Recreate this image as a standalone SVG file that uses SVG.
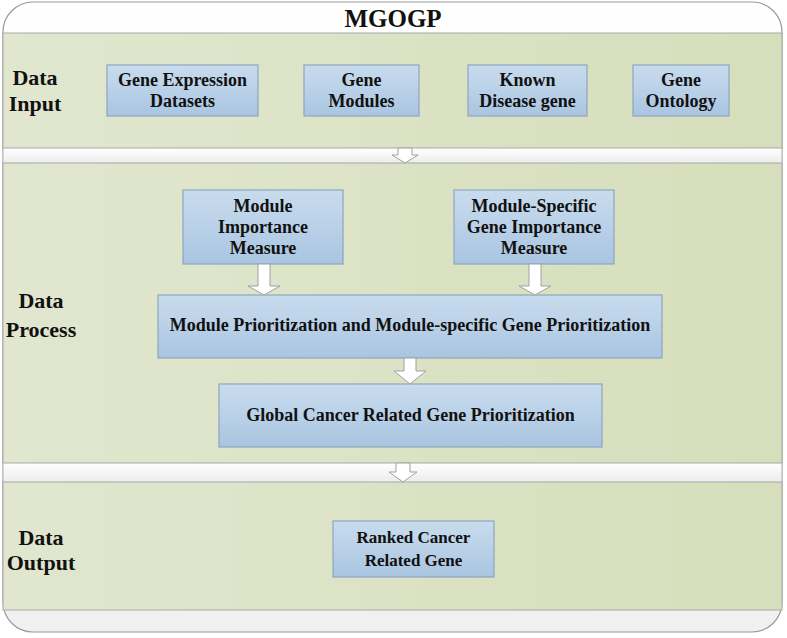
<svg xmlns="http://www.w3.org/2000/svg" width="787" height="638" viewBox="0 0 787 638">
<defs>
<linearGradient id="band" x1="0" y1="0" x2="1" y2="0">
<stop offset="0" stop-color="#e1e7cf"/>
<stop offset="1" stop-color="#d6debb"/>
</linearGradient>
<linearGradient id="gap" x1="0" y1="0" x2="0" y2="1">
<stop offset="0" stop-color="#ffffff"/>
<stop offset="1" stop-color="#ececec"/>
</linearGradient>
<linearGradient id="box" x1="0" y1="0" x2="0" y2="1">
<stop offset="0" stop-color="#c9dcee"/>
<stop offset="1" stop-color="#a9c5e1"/>
</linearGradient>
<linearGradient id="outerg" x1="0" y1="0" x2="0" y2="1">
<stop offset="0" stop-color="#ffffff"/>
<stop offset="1" stop-color="#f0f0f0"/>
</linearGradient>
</defs>
<style>
.band{fill:url(#band);stroke:#a8a8a8;stroke-width:1}
.gap{fill:url(#gap);stroke:none}
.box{fill:url(#box);stroke:#8ea6bf;stroke-width:1.2}
.t{font-family:"Liberation Serif","Times New Roman",serif;font-weight:bold;fill:#111;text-anchor:middle}
.bt{font-size:18px}
.lt{font-size:22px}
.arr{fill:#ffffff;stroke:#a0a0a0;stroke-width:1}
</style>
<g id="frame">
<path d="M33,2 H752 A30,30 0 0 1 782,32 V602 A30,30 0 0 1 752,632 H33 A30,30 0 0 1 3,602 V32 A30,30 0 0 1 33,2 Z" fill="url(#outerg)" stroke="#9a9a9a" stroke-width="1.2"/>
<rect class="gap" x="3.6" y="148" width="777.8" height="15"/>
<rect class="gap" x="3.6" y="463" width="777.8" height="19"/>
<rect class="band" x="3" y="33" width="779" height="115"/>
<rect class="band" x="3" y="163" width="779" height="300"/>
<rect class="band" x="3" y="482" width="779" height="128"/>
<text class="t" x="393" y="27" font-size="25">MGOGP</text>
</g>
<g id="label-input">
<text class="t lt" x="35" y="85">Data</text>
<text class="t lt" x="35" y="111">Input</text>
</g>
<g id="label-process">
<text class="t lt" x="41" y="308">Data</text>
<text class="t lt" x="41" y="337">Process</text>
</g>
<g id="label-output">
<text class="t lt" x="41" y="545">Data</text>
<text class="t lt" x="41" y="570">Output</text>
</g>
<g id="n-gene-expression">
<rect class="box" x="107" y="65" width="151" height="51"/>
<text class="t bt" x="182.5" y="86">Gene Expression</text>
<text class="t bt" x="182.5" y="107">Datasets</text>
</g>
<g id="n-gene-modules">
<rect class="box" x="304" y="65" width="115" height="51"/>
<text class="t bt" x="361.5" y="86">Gene</text>
<text class="t bt" x="361.5" y="107">Modules</text>
</g>
<g id="n-known-disease">
<rect class="box" x="468" y="65" width="119" height="51"/>
<text class="t bt" x="527.5" y="86">Known</text>
<text class="t bt" x="527.5" y="107">Disease gene</text>
</g>
<g id="n-gene-ontology">
<rect class="box" x="633" y="65" width="96" height="51"/>
<text class="t bt" x="681" y="86">Gene</text>
<text class="t bt" x="681" y="107">Ontology</text>
</g>
<g id="n-module-importance">
<rect class="box" x="183" y="190" width="160" height="74"/>
<text class="t bt" x="263" y="212">Module</text>
<text class="t bt" x="263" y="233">Importance</text>
<text class="t bt" x="263" y="254">Measure</text>
</g>
<g id="n-module-specific">
<rect class="box" x="454" y="190" width="160" height="74"/>
<text class="t bt" x="534" y="212">Module-Specific</text>
<text class="t bt" x="534" y="233">Gene Importance</text>
<text class="t bt" x="534" y="254">Measure</text>
</g>
<g id="n-module-prioritization">
<rect class="box" x="158" y="295" width="504" height="63"/>
<text class="t bt" x="410" y="331">Module Prioritization and Module-specific Gene Prioritization</text>
</g>
<g id="n-global">
<rect class="box" x="219" y="384" width="383" height="63"/>
<text class="t bt" x="410.5" y="421">Global Cancer Related Gene Prioritization</text>
</g>
<g id="n-ranked">
<rect class="box" x="333" y="521" width="161" height="56"/>
<text class="t" font-size="17" x="413.5" y="543">Ranked Cancer</text>
<text class="t" font-size="17" x="413.5" y="566">Related Gene</text>
</g>
<g id="connectors">
<path class="arr" d="M398,148 H412 V155 H418 L405,163 L392,155 H398 Z"/>
<path class="arr" d="M258,264 H270 V286 H280 L264,295 L248,286 H258 Z"/>
<path class="arr" d="M529,264 H541 V286 H551 L535,295 L519,286 H529 Z"/>
<path class="arr" d="M404,358 H416 V371 H426 L410,384 L394,371 H404 Z"/>
<path class="arr" d="M396,463 H410 V472 H417 L403,482 L389,472 H396 Z"/>
</g>
</svg>
